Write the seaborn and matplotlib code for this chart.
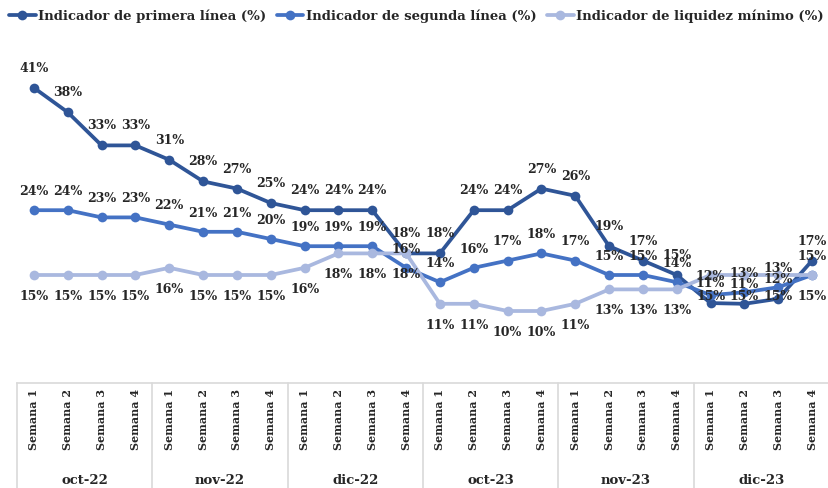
import matplotlib
matplotlib.use("Agg")
import matplotlib.pyplot as plt
import matplotlib.transforms as mtransforms
import numpy as np
import pandas as pd
import seaborn as sns

months = ["oct-22", "nov-22", "dic-22", "oct-23", "nov-23", "dic-23"]
weeks = ["Semana 1", "Semana 2", "Semana 3", "Semana 4"]

series_names = ["Indicador de primera línea (%)",
                "Indicador de segunda línea (%)",
                "Indicador de liquidez mínimo (%)"]

primera = [41, 37.6, 33, 33, 31, 28, 27, 25, 24, 24, 24, 18,
           18, 24, 24, 27, 26, 19, 17, 15, 11.1, 11, 11.7, 17]
segunda = [24, 24, 23, 23, 22, 21, 21, 20, 19, 19, 19, 16,
           14, 16, 17, 18, 17, 15, 15, 14, 12.2, 12.6, 13.3, 15]
liquidez = [15, 15, 15, 15, 16, 15, 15, 15, 16, 18, 18, 18,
            11, 11, 10, 10, 11, 13, 13, 13, 15, 15, 15, 15]

colors = ["#2F5597", "#4472C4", "#A9B8DF"]

sns.set_style("white")
plt.rcParams["font.family"] = ["DejaVu Serif"]
plt.rcParams["font.weight"] = "bold"


def build_frame():
    n = len(primera)
    rows = []
    for name, vals in zip(series_names, [primera, segunda, liquidez]):
        for i in range(n):
            rows.append({"x": i, "valor": vals[i], "serie": name})
    return pd.DataFrame(rows)


def main():
    df = build_frame()
    n = len(primera)

    fig = plt.figure(figsize=(8.29, 4.88), dpi=100)
    ax = fig.add_axes([17 / 829, 105 / 488, 812 / 829, 324 / 488])

    sns.lineplot(data=df, x="x", y="valor", hue="serie", hue_order=series_names,
                 palette=colors, marker="o", markersize=7, markeredgewidth=0,
                 linewidth=2.7, ax=ax, legend=False)

    # data labels: first two series above, liquidity below
    offsets = [14, 13.5, -15.5]
    for vals, off in zip([primera, segunda, liquidez], offsets):
        for i, v in enumerate(vals):
            ax.annotate(f"{round(v):d}%", (i, v), xytext=(0, off), textcoords="offset points",
                        ha="center", va="center", fontsize=9, fontweight="bold",
                        color="#262626")

    ax.set_xlim(-0.5, n - 0.5)
    ax.set_ylim(0, 45)
    ax.set_yticks([])
    ax.set_xlabel("")
    ax.set_ylabel("")
    ax.set_xticks(range(n))
    ax.set_xticklabels(weeks * len(months), rotation=90, fontsize=8,
                       fontweight="bold", color="#262626")
    ax.tick_params(axis="x", length=0, pad=4)
    for s in ["top", "left", "right"]:
        ax.spines[s].set_visible(False)
    ax.spines["bottom"].set_color("#D9D9D9")
    ax.spines["bottom"].set_linewidth(1.2)

    # month groups under the axis
    trans = mtransforms.blended_transform_factory(ax.transData, ax.transAxes)
    for k in range(len(months) + 1):
        xb = k * 4 - 0.5
        ax.plot([xb, xb], [0, -0.33], transform=trans, color="#D9D9D9",
                linewidth=1.2, clip_on=False)
    for k, m in enumerate(months):
        ax.text(k * 4 + 1.5, -0.3, m, transform=trans, ha="center", va="center",
                fontsize=9.5, fontweight="bold", color="#262626")

    handles = ax.lines[:3]
    fig.legend(handles, series_names, loc="upper left", bbox_to_anchor=(0.0, 1.0),
               ncol=3, frameon=False, handlelength=2.0,
               handletextpad=0.2, columnspacing=0.8, borderaxespad=0.3,
               prop={"weight": "bold", "size": 9.5})

    fig.savefig("out.png", dpi=100)


if __name__ == "__main__":
    main()
